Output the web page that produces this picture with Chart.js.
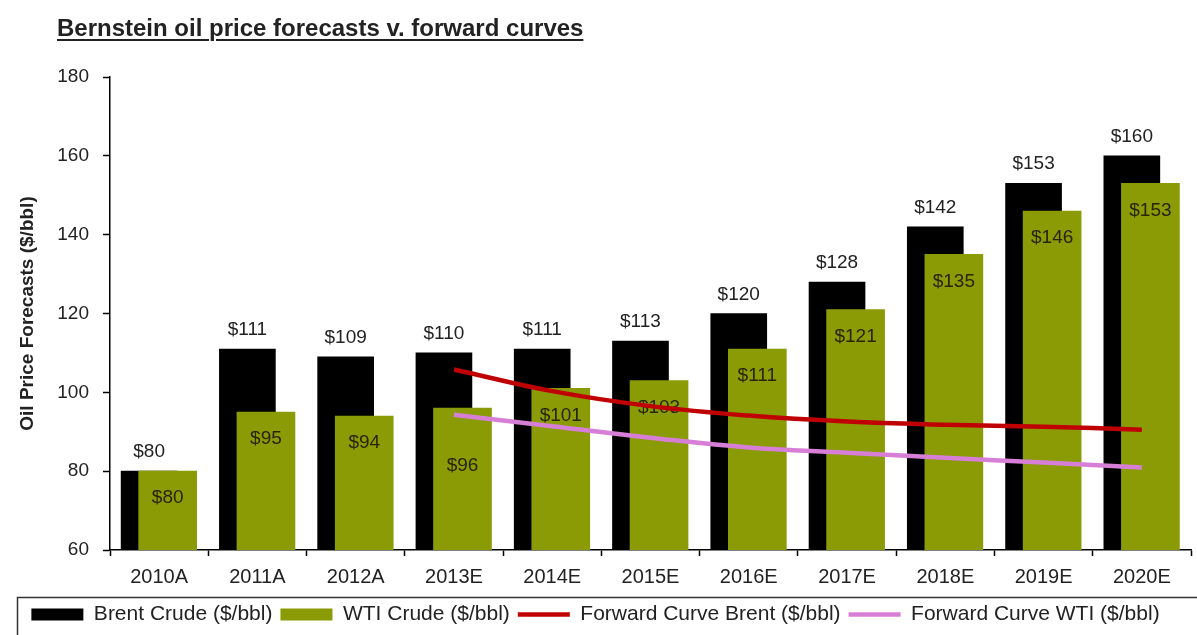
<!DOCTYPE html>
<html lang="en">
<head>
    <meta charset="UTF-8">
    <title>Bernstein oil price forecasts v. forward curves</title>
    <script src="https://cdn.jsdelivr.net/npm/chart.js"></script>
    <style>
        body {
            margin: 0;
            padding: 0;
            background: #fff;
            font-family: Arial, "Liberation Sans", sans-serif;
        }

        .wrap {
            position: relative;
            width: 1197px;
            height: 635px;
            overflow: hidden;
        }

        .title {
            position: absolute;
            left: 57px;
            top: 16px;
            font-size: 24px;
            line-height: 24px;
            font-weight: bold;
            color: #222;
            text-decoration: underline;
            text-decoration-thickness: 2px;
            text-underline-offset: 3px;
            z-index: 2;
        }
    </style>
</head>
<body>
    <div class="wrap">
        <div class="title">Bernstein oil price forecasts v. forward curves</div>
        <canvas id="oil-chart"></canvas>
    </div>

    <script>
        // values
        const years = ['2010A', '2011A', '2012A', '2013E', '2014E', '2015E', '2016E', '2017E', '2018E', '2019E', '2020E'];
        const brent = [80, 111, 109, 110, 111, 113, 120, 128, 142, 153, 160];
        const wti = [80, 95, 94, 96, 101, 103, 111, 121, 135, 146, 153];
        const curveYears = ['2013E', '2014E', '2015E', '2016E', '2017E', '2018E', '2019E', '2020E'];
        const fwdBrent = [105.8, 100.3, 96.5, 94.1, 92.6, 91.8, 91.3, 90.5];
        const fwdWti = [94.3, 91.4, 88.5, 86.0, 84.7, 83.4, 82.2, 80.9];

        // the two bar series overlap inside each year, Brent behind and to the left
        const brentShift = -0.102;
        const wtiShift = 0.087;
        // the 2013E WTI label sits lower in the original, below the curves
        const wtiLabelDrop = { '2013E': 31 };

        const fontFamily = 'Arial, "Liberation Sans", sans-serif';
        Chart.defaults.font.family = fontFamily;
        Chart.defaults.color = '#222';

        const valueLabels = {
            id: 'valueLabels',
            afterDatasetDraw(chart, args) {
                if (args.index !== 1) return;
                const ctx = chart.ctx;
                ctx.save();
                ctx.font = '19px ' + fontFamily;
                ctx.textAlign = 'center';
                ctx.fillStyle = '#222';
                ctx.textBaseline = 'alphabetic';
                chart.getDatasetMeta(0).data.forEach((bar, i) => {
                    ctx.fillText('$' + brent[i], bar.x, bar.y - 14);
                });
                ctx.textBaseline = 'middle';
                ctx.fillStyle = '#262600';
                chart.getDatasetMeta(1).data.forEach((bar, i) => {
                    ctx.fillText('$' + wti[i], bar.x, bar.y + 27 + (wtiLabelDrop[years[i]] || 0));
                });
                ctx.restore();
            }
        };

        const legendFrame = {
            id: 'legendFrame',
            afterDraw(chart) {
                const lg = chart.legend;
                const ctx = chart.ctx;
                ctx.save();
                ctx.strokeStyle = '#333';
                ctx.lineWidth = 1.5;
                ctx.strokeRect(17.5, lg.top + 1.5, chart.width, 60);
                ctx.restore();
            }
        };

        new Chart(document.getElementById('oil-chart'), {
            type: 'bar',
            data: {
                datasets: [
                    {
                        label: 'Brent Crude ($/bbl)',
                        data: brent.map((v, i) => ({ x: i + brentShift, y: v })),
                        backgroundColor: '#000000',
                        barThickness: 56,
                        grouped: false,
                        pointStyle: 'rect',
                        order: 3
                    },
                    {
                        label: 'WTI Crude ($/bbl)',
                        data: wti.map((v, i) => ({ x: i + wtiShift, y: v })),
                        backgroundColor: '#8a9b06',
                        barThickness: 58,
                        grouped: false,
                        pointStyle: 'rect',
                        order: 2
                    },
                    {
                        type: 'line',
                        label: 'Forward Curve Brent ($/bbl)',
                        data: curveYears.map((yr, k) => ({ x: years.indexOf(yr), y: fwdBrent[k] })),
                        borderColor: '#c00000',
                        backgroundColor: '#c00000',
                        borderWidth: 4.5,
                        pointRadius: 0,
                        pointStyle: 'line',
                        tension: 0.4,
                        fill: false,
                        order: 1
                    },
                    {
                        type: 'line',
                        label: 'Forward Curve WTI ($/bbl)',
                        data: curveYears.map((yr, k) => ({ x: years.indexOf(yr), y: fwdWti[k] })),
                        borderColor: '#d77fd7',
                        backgroundColor: '#d77fd7',
                        borderWidth: 4.5,
                        pointRadius: 0,
                        pointStyle: 'line',
                        tension: 0.4,
                        fill: false,
                        order: 0
                    }
                ]
            },
            options: {
                responsive: true,
                maintainAspectRatio: false,
                animation: false,
                layout: {
                    padding: { top: 77, right: 6, left: 0, bottom: 0 }
                },
                plugins: {
                    tooltip: { enabled: false },
                    legend: {
                        position: 'bottom',
                        labels: {
                            usePointStyle: true,
                            pointStyleWidth: 52,
                            boxHeight: 12,
                            padding: 8,
                            color: '#222',
                            font: { size: 21 },
                            sort: (a, b) => a.datasetIndex - b.datasetIndex
                        }
                    }
                },
                scales: {
                    x: {
                        type: 'linear',
                        min: -0.5,
                        max: 10.5,
                        offset: false,
                        afterBuildTicks: s => { s.ticks = years.map((_, i) => ({ value: i })); },
                        afterFit: s => { s.height = 46; },
                        ticks: {
                            callback: v => years[v] ?? '',
                            autoSkip: false,
                            maxRotation: 0,
                            padding: 9,
                            color: '#222',
                            font: { size: 20 }
                        },
                        grid: {
                            offset: true,
                            drawOnChartArea: false,
                            tickLength: 6,
                            color: '#000',
                            tickWidth: 1.5
                        },
                        border: { color: '#000', width: 1.5 }
                    },
                    y: {
                        min: 60,
                        max: 180,
                        afterFit: s => { s.width = 110; },
                        ticks: {
                            stepSize: 20,
                            padding: 14,
                            color: '#222',
                            font: { size: 19 }
                        },
                        grid: {
                            drawOnChartArea: false,
                            tickLength: 7,
                            color: '#000',
                            tickWidth: 1.5
                        },
                        border: { color: '#000', width: 1.5 },
                        title: {
                            display: true,
                            text: 'Oil Price Forecasts ($/bbl)',
                            color: '#222',
                            font: { size: 19, weight: 'bold' },
                            padding: { top: 16, bottom: 0 }
                        }
                    }
                }
            },
            plugins: [valueLabels, legendFrame]
        });
    </script>
</body>
</html>
